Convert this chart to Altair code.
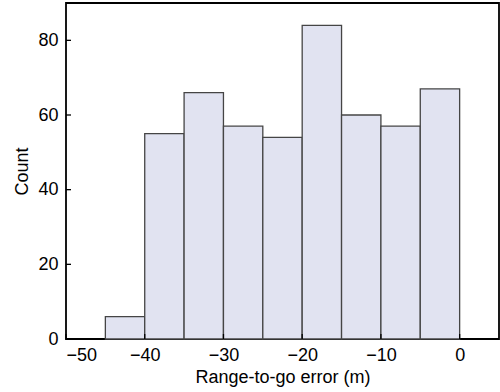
import altair as alt
import pandas as pd

# Histogram of range-to-go error, 5 m bins
bin_start = [-45, -40, -35, -30, -25, -20, -15, -10, -5]
bin_end = [-40, -35, -30, -25, -20, -15, -10, -5, 0]
counts = [6, 55, 66, 57, 54, 84, 60, 57, 67]

x_ticks = [-50, -40, -30, -20, -10, 0]
y_ticks = [0, 20, 40, 60, 80]

bins = pd.DataFrame({"start": bin_start, "end": bin_end, "count": counts})
xt = pd.DataFrame({"v": x_ticks})
yt = pd.DataFrame({"v": y_ticks})

FONT = "Liberation Sans"
W, H = 433, 336

x_scale = alt.Scale(domain=[-50, 5], nice=False, zero=False)
y_scale = alt.Scale(domain=[0, 90], nice=False)

bars = alt.Chart(bins).mark_rect(
    fill="#e1e3f1", stroke="#454545", strokeWidth=1.3
).encode(
    x=alt.X("start:Q", scale=x_scale,
            axis=alt.Axis(values=x_ticks, title="Range-to-go error (m)",
                          ticks=False, domain=False, grid=False,
                          labelPadding=7, titlePadding=4)),
    x2="end:Q",
    y=alt.Y("count:Q", scale=y_scale,
            axis=alt.Axis(values=y_ticks, title="Count",
                          ticks=False, domain=False, grid=False,
                          labelPadding=8, titlePadding=6)),
    y2=alt.datum(0),
)

# inward-pointing tick marks
x_tick_marks = alt.Chart(xt).mark_rule(color="black", strokeWidth=1.3).encode(
    x=alt.X("v:Q", scale=x_scale),
    y=alt.value(H),
    y2=alt.value(H - 5),
)
y_tick_marks = alt.Chart(yt).mark_rule(color="black", strokeWidth=1.3).encode(
    y=alt.Y("v:Q", scale=y_scale),
    x=alt.value(0),
    x2=alt.value(5),
)

chart = alt.layer(bars, x_tick_marks, y_tick_marks).properties(
    width=W, height=H,
    padding={"left": 66, "top": 3, "right": 1, "bottom": 53},
    autosize=alt.AutoSizeParams(type="none"),
).configure_view(
    stroke="black", strokeWidth=1.8
).configure_axis(
    labelFont=FONT, titleFont=FONT, labelFontSize=18, titleFontSize=18,
    labelColor="black", titleColor="black", titleFontWeight="normal",
)

chart.save("out.html", embed_options={"renderer": "svg", "actions": False})
